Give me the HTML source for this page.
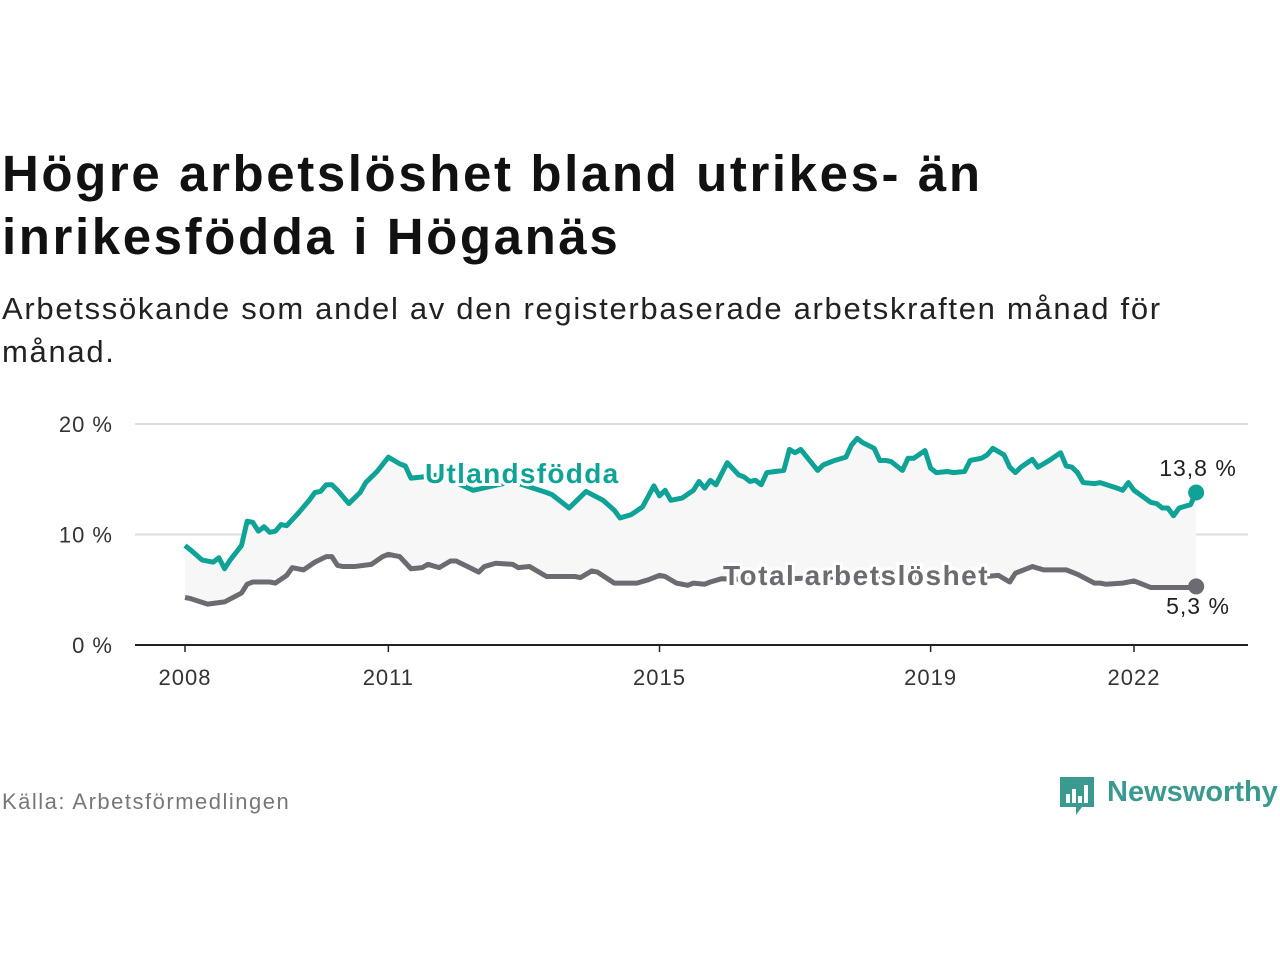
<!DOCTYPE html>
<html><head><meta charset="utf-8">
<style>
body{margin:0;width:1280px;height:960px;background:#fff;font-family:"Liberation Sans",sans-serif;overflow:hidden;position:relative}
.t{position:absolute;left:2px;top:142px;font-size:51px;font-weight:bold;line-height:63px;color:#111;letter-spacing:2.6px}
.s{position:absolute;left:2px;top:287px;font-size:31px;line-height:43px;color:#222;letter-spacing:1.7px}
.src{position:absolute;left:2px;top:789px;font-size:22px;color:#777;letter-spacing:1.5px}
.logo{position:absolute;left:1060px;top:774px}
</style></head><body>
<div class="t">Högre arbetslöshet bland utrikes- än<br>inrikesfödda i Höganäs</div>
<div class="s">Arbetssökande som andel av den registerbaserade arbetskraften månad för<br>månad.</div>
<svg id="c" width="1280" height="960" style="position:absolute;left:0;top:0"></svg>
<div class="src">Källa: Arbetsförmedlingen</div>
<div class="logo">
<svg width="220" height="44"><path d="M0 3h34v30h-12l-6 8v-8h-16z" fill="#3a9a8f"/><rect x="6" y="20" width="4" height="9" fill="#fff"/><rect x="12" y="15" width="4" height="14" fill="#fff"/><rect x="18" y="22" width="4" height="7" fill="#fff"/><rect x="24" y="11" width="4" height="18" fill="#fff"/><text x="47" y="27" font-size="29" font-weight="bold" fill="#3a9a8f" font-family="Liberation Sans,sans-serif">Newsworthy</text></svg>
</div>
<script>
const tickYears=["2008","2011","2015","2019","2022"];
const tickMonths=[0,36,84,132,168];
const yTicks=[0,10,20];
const uMonths=[0,1,3,4,5,6,7,8,10,11,12,13,14,15,16,17,18,20,22,23,24,25,26,27,29,30,31,32,34,36,38,39,40,42,45,51,58,64,65,68,71,74,76,77,79,81,83,84,85,86,88,90,91,92,93,94,96,98,99,100,101,102,103,106,107,108,109,112,113,115,117,118,119,120,122,123,124,125,127,128,129,131,132,133,135,136,138,139,141,142,143,145,146,147,148,150,151,153,155,156,157,158,159,161,162,165,166,167,168,171,172,173,174,175,176,178,179];
const uVals=[9.0,8.6,7.7,7.6,7.5,7.9,6.9,7.7,9.0,11.2,11.1,10.3,10.7,10.2,10.3,10.9,10.8,11.9,13.1,13.8,13.9,14.5,14.5,14.0,12.8,13.3,13.8,14.7,15.7,17.0,16.4,16.2,15.1,15.2,15.4,14.0,14.8,13.8,13.6,12.4,13.9,13.1,12.2,11.5,11.8,12.5,14.4,13.5,14.0,13.1,13.3,14.0,14.8,14.2,14.9,14.5,16.5,15.4,15.2,14.8,14.9,14.5,15.6,15.8,17.7,17.4,17.7,15.8,16.3,16.7,17.0,18.1,18.7,18.3,17.8,16.7,16.7,16.6,15.8,16.9,16.9,17.6,16.0,15.6,15.7,15.6,15.7,16.7,16.9,17.2,17.8,17.2,16.1,15.6,16.1,16.8,16.1,16.7,17.4,16.2,16.1,15.6,14.7,14.6,14.7,14.2,14.0,14.7,14.0,12.9,12.8,12.4,12.4,11.7,12.4,12.7,13.8];
const tMonths=[0,1,4,7,10,11,12,15,16,18,19,21,23,25,26,27,28,30,33,35,36,38,40,42,43,45,47,48,50,52,53,55,58,59,61,64,69,70,72,73,76,80,82,84,85,87,89,90,92,93,95,102,118,135,144,146,147,150,152,156,158,161,162,163,166,168,169,171,173,175,176,178,179];
const tVals=[4.3,4.2,3.7,3.9,4.7,5.5,5.7,5.7,5.6,6.3,7.0,6.8,7.5,8.0,8.0,7.2,7.1,7.1,7.3,8.0,8.2,8.0,6.9,7.0,7.3,7.0,7.6,7.6,7.1,6.6,7.1,7.4,7.3,7.0,7.1,6.2,6.2,6.1,6.7,6.6,5.6,5.6,5.9,6.3,6.2,5.6,5.4,5.6,5.5,5.7,6.0,5.9,6.2,5.9,6.3,5.7,6.5,7.1,6.8,6.8,6.4,5.6,5.6,5.5,5.6,5.8,5.6,5.2,5.2,5.2,5.2,5.2,5.3];
const X=m=>185+m*(1134-185)/168;
const Y=v=>645-v*11.05;
const svg=document.getElementById('c');
const NS='http://www.w3.org/2000/svg';
function mk(tag,attrs,txt){const e=document.createElementNS(NS,tag);for(const k in attrs)e.setAttribute(k,attrs[k]);if(txt!==undefined)e.textContent=txt;svg.appendChild(e);return e;}
yTicks.forEach(v=>{
 if(v>0){const g=mk('line',{x1:135,x2:1248,y1:Y(v),y2:Y(v),stroke:'#ddd','stroke-width':2});
 
 }
 const l=mk('text',{x:113,y:Y(v)+8,'text-anchor':'end','font-size':22,fill:'#333','letter-spacing':1},v+' %');
 
 
});
const uPts=uMonths.map((m,i)=>[X(m),Y(uVals[i])]);
const tPts=tMonths.map((m,i)=>[X(m),Y(tVals[i])]);
const area=mk('path',{d:'M'+uPts.map(p=>p.join(',')).join('L')+'L'+tPts.slice().reverse().map(p=>p.join(',')).join('L')+'Z',fill:'#f7f7f7'});


const ax=mk('line',{x1:135,x2:1248,y1:645,y2:645,stroke:'#222','stroke-width':2});


tickMonths.forEach((m,i)=>{
 mk('line',{x1:X(m),x2:X(m),y1:645,y2:652,stroke:'#222','stroke-width':1.5});
 const t=mk('text',{x:X(m),y:685,'text-anchor':'middle','font-size':22,fill:'#333','letter-spacing':1},tickYears[i]);
 
 
});
const ul=mk('polyline',{points:uPts.map(p=>p.join(',')).join(' '),fill:'none',stroke:'#0fa398','stroke-width':5,'stroke-linejoin':'round'});


const tl=mk('polyline',{points:tPts.map(p=>p.join(',')).join(' '),fill:'none',stroke:'#6d6b72','stroke-width':5,'stroke-linejoin':'round'});


const ud=mk('circle',{cx:uPts[uPts.length-1][0],cy:uPts[uPts.length-1][1],r:8,fill:'#0fa398'});


const td=mk('circle',{cx:tPts[tPts.length-1][0],cy:tPts[tPts.length-1][1],r:8,fill:'#6d6b72'});


const l1=mk('text',{x:425,y:483,'font-size':28,'font-weight':'bold',fill:'#0fa398',stroke:'#fff','stroke-width':6,'paint-order':'stroke','letter-spacing':1.3},'Utlandsfödda');


const l2=mk('text',{x:723,y:585,'font-size':28,'font-weight':'bold',fill:'#6d6b72',stroke:'#fff','stroke-width':6,'paint-order':'stroke','letter-spacing':1.5},'Total arbetslöshet');


const v1=mk('text',{x:1198,y:476,'text-anchor':'middle','font-size':23,fill:'#222',stroke:'#fff','stroke-width':5,'paint-order':'stroke','letter-spacing':1},uVals[uVals.length-1].toFixed(1).replace('.',',')+' %');


const v2=mk('text',{x:1198,y:614,'text-anchor':'middle','font-size':23,fill:'#222',stroke:'#fff','stroke-width':5,'paint-order':'stroke','letter-spacing':1},tVals[tVals.length-1].toFixed(1).replace('.',',')+' %');


</script>
</body></html>
